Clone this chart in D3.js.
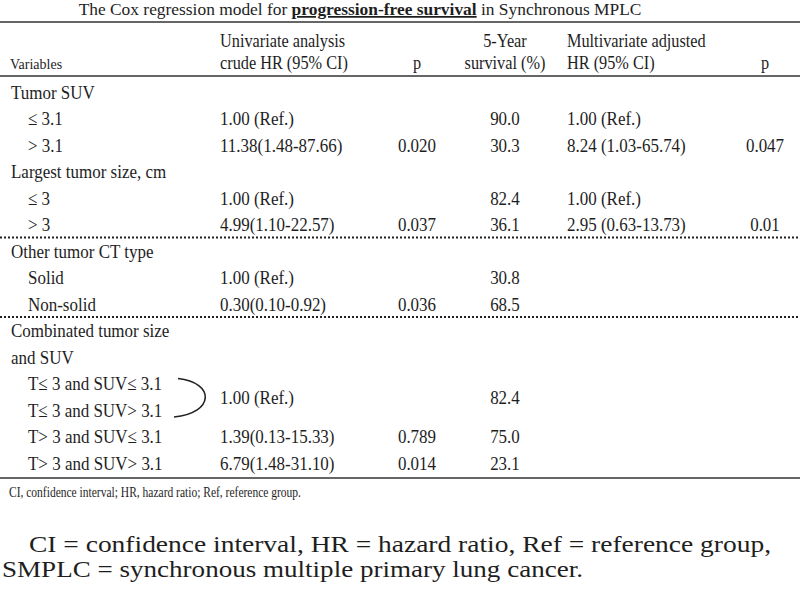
<!DOCTYPE html>
<html>
<head>
<meta charset="utf-8">
<script src="https://cdn.jsdelivr.net/npm/d3@7"></script>
<style>
  body { margin: 0; background: #fff; }
  svg { display: block; }
  text { font-family: "Liberation Serif", "Times New Roman", serif; fill: #1e1e1e; }
</style>
</head>
<body>
<svg width="800" height="591"></svg>
<script>
const rowLabels = ["Tumor SUV", "\u2264 3.1", "> 3.1", "Largest tumor size, cm", "\u2264 3", "> 3",
  "Other tumor CT type", "Solid", "Non-solid", "Combinated tumor size", "and SUV",
  "T\u2264 3 and SUV\u2264 3.1", "T\u2264 3 and SUV> 3.1", "T> 3 and SUV\u2264 3.1", "T> 3 and SUV> 3.1"];
const rowIndent = [0, 1, 1, 0, 1, 1, 0, 1, 1, 0, 0, 1, 1, 1, 1];
const crudeHR = ["", "1.00 (Ref.)", "11.38(1.48-87.66)", "", "1.00 (Ref.)", "4.99(1.10-22.57)",
  "", "1.00 (Ref.)", "0.30(0.10-0.92)", "", "", "", "", "1.39(0.13-15.33)", "6.79(1.48-31.10)"];
const pUni = ["", "", "0.020", "", "", "0.037", "", "", "0.036", "", "", "", "", "0.789", "0.014"];
const survival = ["", "90.0", "30.3", "", "82.4", "36.1", "", "30.8", "68.5", "", "", "", "", "75.0", "23.1"];
const adjHR = ["", "1.00 (Ref.)", "8.24 (1.03-65.74)", "", "1.00 (Ref.)", "2.95 (0.63-13.73)",
  "", "", "", "", "", "", "", "", ""];
const pAdj = ["", "", "0.047", "", "", "0.01", "", "", "", "", "", "", "", "", ""];
// rows 11 and 12 share one reference value, drawn with a brace
const groupedRows = [11, 12];
const groupedHR = "1.00 (Ref.)";
const groupedSurvival = "82.4";
const dottedAfter = [5, 8];

const headerLine1 = ["", "Univariate analysis", "", "5-Year", "Multivariate adjusted", ""];
const headerLine2 = ["", "crude HR (95% CI)", "p", "survival (%)", "HR (95% CI)", "p"];
const title = ["The Cox regression model for ", "progression-free survival", " in Synchronous MPLC"];
const footnote = "CI, confidence interval; HR, hazard ratio; Ref, reference group.";
const caption = ["CI = confidence interval, HR = hazard ratio, Ref = reference group,",
  "SMPLC = synchronous multiple primary lung cancer."];

const svg = d3.select("svg");
const W = 800;
const sx = 0.875;          // body text in the scan is narrow and tall
const fs = "19.4px";
const fsHead = "18.6px";

const colKeys = ["var", "hr", "p1", "surv", "adj", "p2"];
const colX = d3.scaleOrdinal().domain(colKeys).range([10, 220, 417, 505, 567, 765]);
const colAnchor = d3.scaleOrdinal().domain(colKeys).range(["start", "start", "middle", "middle", "start", "middle"]);

const rowY = d3.scalePoint()
               .domain(d3.range(rowLabels.length))
               .range([99, 470]);
const step = rowY.step();

// title
const t = svg.append("text")
             .attr("x", 360)
             .attr("y", 15)
             .attr("text-anchor", "middle")
             .style("font-size", "17.4px");
t.selectAll("tspan")
 .data(title)
 .enter()
 .append("tspan")
 .style("font-weight", (d, i) => i === 1 ? "bold" : "normal")
 .style("text-decoration", (d, i) => i === 1 ? "underline" : "none")
 .text(d => d);

// rules
const rule = (y, w, dash) => {
  svg.append("line")
     .attr("x1", 0).attr("x2", W)
     .attr("y1", y).attr("y2", y)
     .attr("stroke", dash ? "#222" : "#666")
     .attr("stroke-width", w)
     .attr("stroke-dasharray", dash || null);
};
rule(22, 2);
rule(76, 2);
rule(478, 2);
dottedAfter.forEach(r => rule(rowY(r) + step * 0.23, 2, "2,2"));

svg.append("text")
   .attr("x", 10)
   .attr("y", 69)
   .style("font-size", "14px")
   .text("Variables");

const body = svg.append("g").attr("transform", `scale(${sx},1)`);
const X = x => x / sx;

// header
[headerLine1, headerLine2].forEach((line, li) => {
  body.selectAll(null)
      .data(line)
      .enter()
      .append("text")
      .attr("x", (d, i) => X(colX(colKeys[i])))
      .attr("y", li === 0 ? 47 : 69)
      .attr("text-anchor", (d, i) => colAnchor(colKeys[i]))
      .style("font-size", fsHead)
      .text(d => d);
});

// body
const columns = [
  ["hr", crudeHR], ["p1", pUni], ["surv", survival], ["adj", adjHR], ["p2", pAdj]
];

body.selectAll(null)
    .data(rowLabels)
    .enter()
    .append("text")
    .attr("x", (d, i) => X(colX("var") + 1 + rowIndent[i] * 17))
    .attr("y", (d, i) => rowY(i))
    .style("font-size", fs)
    .text(d => d);

columns.forEach(([key, vals]) => {
  body.selectAll(null)
      .data(vals)
      .enter()
      .append("text")
      .attr("x", X(colX(key)))
      .attr("y", (d, i) => rowY(i))
      .attr("text-anchor", colAnchor(key))
      .style("font-size", fs)
      .text(d => d);
});

// brace for the grouped reference rows
const yTop = rowY(groupedRows[0]);
const yBot = rowY(groupedRows[1]);
const yMid = (yTop + yBot) / 2;
svg.append("path")
   .attr("d", `M 178 ${yTop - 12} C 215 ${yTop - 8}, 215 ${yBot - 4}, 174 ${yBot}`)
   .attr("fill", "none")
   .attr("stroke", "#222")
   .attr("stroke-width", 1.6);
body.append("text")
    .attr("x", X(colX("hr")))
    .attr("y", yMid)
    .style("font-size", fs)
    .text(groupedHR);
body.append("text")
    .attr("x", X(colX("surv")))
    .attr("y", yMid)
    .attr("text-anchor", "middle")
    .style("font-size", fs)
    .text(groupedSurvival);

// footnote and caption
svg.append("text")
   .attr("x", 9)
   .attr("y", 497)
   .style("font-size", "14.5px")
   .attr("textLength", 292)
   .attr("lengthAdjust", "spacingAndGlyphs")
   .text(footnote);

svg.selectAll(null)
   .data(caption)
   .enter()
   .append("text")
   .attr("x", (d, i) => i === 0 ? 29 : 2)
   .attr("y", (d, i) => 552 + i * 25)
   .style("font-size", "24px")
   .attr("textLength", (d, i) => i === 0 ? 742 : 581)
   .attr("lengthAdjust", "spacingAndGlyphs")
   .text(d => d);
</script>
</body>
</html>
